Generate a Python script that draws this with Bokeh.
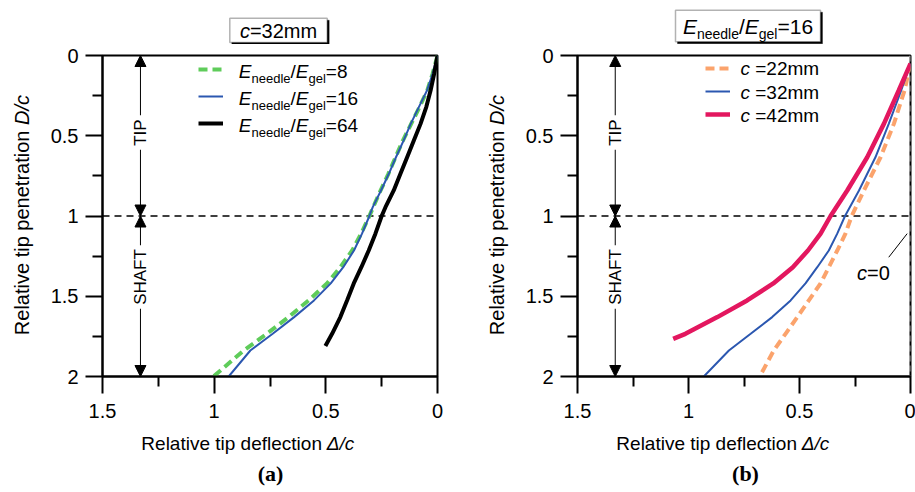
import math
from bokeh.plotting import figure
from bokeh.layouts import row, column
from bokeh.models import (Range1d, FixedTicker, Span, Label, Arrow, NormalHead,
                          BoxAnnotation, Legend, LegendItem, CustomJSTickFormatter)
from bokeh.core.properties import value
from bokeh.embed import file_html
from bokeh.resources import INLINE

# ---------------- data ----------------
x_ticks = [1.5, 1.0, 0.5, 0.0]
x_tick_labels = ["1.5", "1", "0.5", "0"]
x_minor_ticks = [1.25, 0.75, 0.25]
y_ticks = [0.0, 0.5, 1.0, 1.5, 2.0]
y_tick_labels = ["0", "0.5", "1", "1.5", "2"]
y_minor_ticks = [0.25, 0.75, 1.25, 1.75]

tip_length = 1.0          # D/c at the tip / shaft boundary
zone_marker_x = 1.33      # position of the TIP / SHAFT arrows (Delta/c)

# panel (a): c = 32 mm, three stiffness ratios
a_depth = [0.0, 0.114, 0.218, 0.32, 0.426, 0.53, 0.634, 0.737, 0.841, 0.945, 1.0,
           1.11, 1.215, 1.319, 1.42, 1.526, 1.63, 1.734, 1.838, 2.0]
a_defl_e8 = [0.0, 0.022, 0.046, 0.08, 0.118, 0.155, 0.188, 0.22, 0.255, 0.288, 0.305,
             0.342, 0.382, 0.435, 0.495, 0.577, 0.667, 0.764, 0.868, 1.003]
a_defl_e16 = [0.0, 0.022, 0.047, 0.083, 0.12, 0.152, 0.186, 0.218, 0.253, 0.29, 0.305,
              0.338, 0.374, 0.422, 0.478, 0.553, 0.642, 0.738, 0.838, 0.935]
a_depth_e64 = [0.0, 0.114, 0.218, 0.32, 0.426, 0.53, 0.634, 0.737, 0.841, 0.945, 1.0,
               1.11, 1.215, 1.319, 1.42, 1.526, 1.63, 1.734, 1.81]
a_defl_e64 = [0.0, 0.015, 0.031, 0.05, 0.076, 0.106, 0.136, 0.166, 0.196, 0.233, 0.25,
              0.278, 0.308, 0.341, 0.375, 0.405, 0.435, 0.472, 0.502]

# panel (b): E_needle/E_gel = 16, three needle lengths
b_depth = [0.05, 0.218, 0.426, 0.634, 0.841, 1.0, 1.11, 1.215, 1.319, 1.42, 1.526,
           1.63, 1.734, 1.838, 2.0]
b_defl_c22 = [0.0, 0.027, 0.075, 0.135, 0.21, 0.265, 0.293, 0.33, 0.368, 0.405, 0.458,
              0.51, 0.563, 0.616, 0.679]
b_defl_c32 = [0.0, 0.042, 0.098, 0.158, 0.232, 0.295, 0.33, 0.368, 0.42, 0.473, 0.54,
              0.623, 0.72, 0.818, 0.931]
b_depth_c42 = [0.05, 0.218, 0.426, 0.634, 0.841, 1.0, 1.11, 1.215, 1.319, 1.42, 1.526,
               1.63, 1.734, 1.766]
b_defl_c42 = [0.0, 0.053, 0.12, 0.195, 0.285, 0.36, 0.405, 0.462, 0.53, 0.618, 0.736,
              0.87, 1.014, 1.069]
c_zero_defl = 0.0

# ---------------- styling helpers ----------------
FONT = "Liberation Sans"
W = {' ': 278, '(': 333, ')': 333, '.': 278, '/': 278, '=': 584, 'A': 667, 'D': 722,
     'E': 667, 'F': 611, 'H': 722, 'I': 278, 'P': 667, 'R': 722, 'S': 667, 'T': 611,
     'a': 556, 'b': 556, 'c': 500, 'd': 556, 'e': 556, 'f': 278, 'g': 556, 'i': 222,
     'l': 222, 'm': 833, 'n': 556, 'o': 556, 'p': 556, 'r': 333, 't': 278, 'v': 500,
     'Δ': 612}
MID = 0.3465   # baseline -> middle of the text box, in em (Liberation Sans)


def tw(s, size):
    return sum(W.get(ch, 556) for ch in s) * size / 1000.0


def runs_width(runs):
    return sum(tw(t, s) for t, s, it, dy in runs)


def put_runs(p, runs, x, y, angle=0.0, align="left"):
    """Place text runs (text, size, italic, baseline drop) so that (x, y) is the
    start (or centre) of the common baseline, in frame screen coords (y up)."""
    ca, sa = math.cos(angle), math.sin(angle)
    total = runs_width(runs)
    adv = -total / 2.0 if align == "center" else 0.0
    for t, s, it, dy in runs:
        lead = len(t) - len(t.lstrip(" "))
        adv += tw(" " * lead, s)
        t = t.lstrip(" ")
        w = tw(t, s)
        c = adv + w / 2.0
        up = MID * s - dy
        px = x + c * ca - up * sa
        py = y + c * sa + up * ca
        p.add_layout(Label(x=px, y=py, x_units="screen", y_units="screen", text=t,
                           text_font=FONT, text_font_size=f"{s}px",
                           text_font_style="italic" if it else "normal",
                           text_baseline="middle", text_align="center",
                           text_color="black", angle=angle))
        adv += w


def aux_fig(width, height):
    p = figure(width=width, height=height, x_range=Range1d(0, width),
               y_range=Range1d(0, height), output_backend="svg", toolbar_location=None,
               x_axis_location=None, y_axis_location=None, title=None,
               min_border=0, min_border_left=0, min_border_right=0,
               min_border_top=0, min_border_bottom=0)
    p.grid.visible = False
    p.outline_line_color = None
    p.background_fill_color = "white"
    p.border_fill_color = "white"
    return p


TOP_H = 44
MAIN_TOP = 11
MAIN_H = MAIN_TOP + 321 + 50


def make_fig(width, bl, br):
    p = figure(width=width, height=MAIN_H, x_range=Range1d(1.5, 0), y_range=Range1d(2, 0),
               output_backend="svg", toolbar_location=None,
               min_border_left=bl, min_border_right=br, min_border_top=MAIN_TOP,
               min_border_bottom=50)
    p.grid.visible = False
    p.outline_line_color = "black"
    p.outline_line_width = 2
    p.outline_line_alpha = 1
    p.background_fill_color = "white"
    p.border_fill_color = "white"
    fmt = CustomJSTickFormatter(code="return tick.toString()")
    for ax, ticks, labels, minor in ((p.xaxis[0], x_ticks, x_tick_labels, x_minor_ticks),
                                     (p.yaxis[0], y_ticks, y_tick_labels, y_minor_ticks)):
        ax.ticker = FixedTicker(ticks=ticks, minor_ticks=minor)
        ax.formatter = fmt
        ax.major_label_overrides = {float(t): l for t, l in zip(ticks, labels)}
        ax.axis_line_width = 2
        ax.major_tick_line_width = 2
        ax.minor_tick_line_width = 2
        ax.major_tick_out = 17
        ax.major_tick_in = 0
        ax.minor_tick_out = 10
        ax.minor_tick_in = 0
        ax.major_label_text_font = FONT
        ax.major_label_text_font_size = "20px"
        ax.major_label_text_color = "black"
    p.xaxis.major_label_standoff = 10
    p.yaxis.major_label_standoff = 7
    p.add_layout(Span(location=tip_length, dimension="width", line_color="black",
                      line_width=1.5, line_dash="7 5", level="underlay"))
    # TIP / SHAFT zone arrows
    for y0, y1, word, ymid in ((0.0, tip_length, "TIP", 0.48),
                               (tip_length, 2.0, "SHAFT", 1.38)):
        p.add_layout(Arrow(x_start=zone_marker_x, y_start=y0, x_end=zone_marker_x, y_end=y1,
                           line_width=1, line_color="black",
                           start=NormalHead(size=11, fill_color="black", line_color="black", line_width=1),
                           end=NormalHead(size=11, fill_color="black", line_color="black", line_width=1)))
        p.add_layout(Label(x=zone_marker_x, y=ymid, text=word, angle=math.pi / 2,
                           text_align="center", text_baseline="middle", text_font=FONT,
                           text_font_size="17px", text_color="black",
                           background_fill_color="white", background_fill_alpha=1,
                           padding=4))
    return p


def title_box(p, left, right, top, bottom):
    p.add_layout(BoxAnnotation(left=left + 2, right=right + 2, top=top - 2,
                               bottom=bottom - 2, left_units="screen", right_units="screen",
                               top_units="screen", bottom_units="screen",
                               fill_color="black", fill_alpha=1, line_color="black",
                               line_width=1, level="annotation", editable=False))
    p.add_layout(BoxAnnotation(left=left, right=right, top=top, bottom=bottom,
                               left_units="screen", right_units="screen",
                               top_units="screen", bottom_units="screen",
                               fill_color="white", fill_alpha=1, line_color="black",
                               line_width=1.5, level="annotation", editable=False))


def ratio_runs(main, sub, tail):
    return [("E", main, True, 0), ("needle", sub, False, 5), ("/", main, False, 0),
            ("E", main, True, 0), ("gel", sub, False, 5), (tail, main, False, 0)]


def bottom_fig(width, xl_center, tag_center, tag):
    f = aux_fig(width, 66)
    put_runs(f, [("Relative tip deflection ", 19, False, 0), ("Δ/c", 19, True, 0)],
             xl_center, 42, align="center")
    f.add_layout(Label(x=tag_center, y=12 + 0.3375 * 22, x_units="screen", y_units="screen",
                       text=tag, text_font="Liberation Serif", text_font_style="bold",
                       text_font_size="22px", text_align="center",
                       text_baseline="middle", text_color="black"))
    return f


def ylabel_fig(width, baseline_x):
    # in a row, this figure's frame is aligned with the main plot frame
    f = aux_fig(width, MAIN_H)
    put_runs(f, [("Relative tip penetration ", 20, False, 0), ("D/c", 20, True, 0)],
             baseline_x, 161.4, angle=math.pi / 2, align="center")
    return f


# ---------------- panel (a) ----------------
pa = make_fig(426, 62, 29)
ra1 = pa.line(a_defl_e8, a_depth, line_color="#5fcc5a", line_width=4, line_dash="9 5")
ra2 = pa.line(a_defl_e16, a_depth, line_color="#2b57b0", line_width=2)
ra3 = pa.line(a_defl_e64, a_depth_e64, line_color="black", line_width=4)
leg_a = Legend(items=[LegendItem(label=value(" "), renderers=[r]) for r in (ra1, ra2, ra3)],
               location=(96, 243), glyph_width=25, glyph_height=20, label_height=20,
               label_width=0, spacing=7, padding=0, margin=0, label_standoff=0,
               border_line_alpha=0, background_fill_alpha=0, label_text_font_size="2px")
pa.add_layout(leg_a)
for yb, tail in ((376 - 77.5, "=8"), (376 - 104.2, "=16"), (376 - 131.8, "=64")):
    put_runs(pa, ratio_runs(19, 13, tail), 136.3, yb)

top_a = aux_fig(466, TOP_H)
title_box(top_a, 229.3, 326.7, TOP_H - 17.7, TOP_H - 42)
put_runs(top_a, [("c", 20, True, 0), ("=32mm", 20, False, 0)], 278, TOP_H - 37, align="center")
ylab_a = ylabel_fig(40, 28)
bot_a = bottom_fig(466, 247, 270, "(a)")

# ---------------- panel (b) ----------------
pb = make_fig(405, 67, 5)
pb.add_layout(Span(location=c_zero_defl, dimension="height", line_color="#a0a0a0",
                   line_width=3, line_dash="6 4", level="underlay"))
rb1 = pb.line(b_defl_c22, b_depth, line_color="#fba36c", line_width=4, line_dash="9 5")
rb2 = pb.line(b_defl_c32, b_depth, line_color="#2b57b0", line_width=2)
rb3 = pb.line(b_defl_c42, b_depth_c42, line_color="#e3175f", line_width=4.5)
leg_b = Legend(items=[LegendItem(label=value(" "), renderers=[r]) for r in (rb1, rb2, rb3)],
               location=(128, 252), glyph_width=25, glyph_height=20, label_height=20,
               label_width=0, spacing=3, padding=0, margin=0, label_standoff=0,
               border_line_alpha=0, background_fill_alpha=0, label_text_font_size="2px")
pb.add_layout(leg_b)
for yb, tail in ((376 - 74.8, " =22mm"), (376 - 98.2, " =32mm"), (376 - 121.5, " =42mm")):
    put_runs(pb, [("c", 19, True, 0), (tail, 19, False, 0)], 163, yb)
pb.add_layout(Arrow(x_start=0.098, y_start=1.257, x_end=0.015, y_end=1.11,
                    start=None, end=None, line_color="black", line_width=1))
put_runs(pb, [("c", 20, True, 0), ("=0", 20, False, 0)], 296, 97, align="center")

top_b = aux_fig(449, TOP_H)
title_box(top_b, 209, 354, TOP_H - 9.7, TOP_H - 41.3)
put_runs(top_b, ratio_runs(21, 14, "=16"), 281.5, TOP_H - 33, align="center")
ylab_b = ylabel_fig(44, 37)
bot_b = bottom_fig(449, 256, 279, "(b)")

left_col = column(top_a, row(ylab_a, pa), bot_a)
right_col = column(top_b, row(ylab_b, pb), bot_b)
layout = row(left_col, right_col)
open("out.html", "w").write(file_html(layout, INLINE))
